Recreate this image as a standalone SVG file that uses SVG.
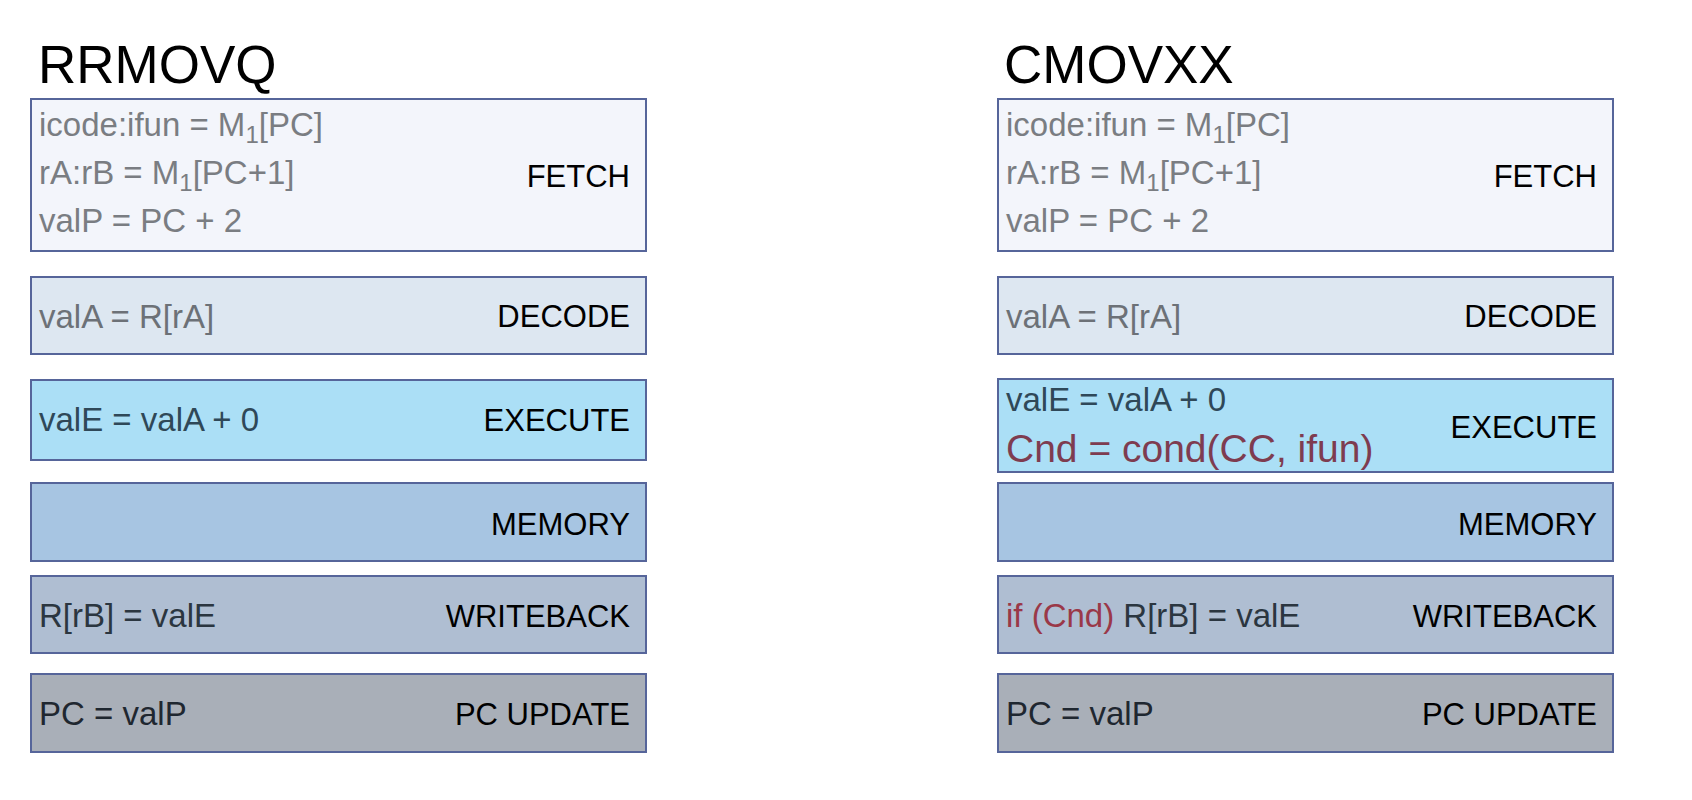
<svg xmlns="http://www.w3.org/2000/svg" width="1692" height="800" viewBox="0 0 1692 800">
<style>
.bg{fill:#ffffff}
.box{stroke:#56659a;stroke-width:2}
.fetch{fill:#f3f5fb}
.decode{fill:#dde7f1}
.execute{fill:#abdff6}
.memory{fill:#a7c5e2}
.writeback{fill:#afbed2}
.pcupdate{fill:#a9afb8}
.title{font-family:"Liberation Sans",Arial,sans-serif;font-size:53px;fill:#000}
.lbl{font-family:"Liberation Sans",Arial,sans-serif;font-size:31px;fill:#000;text-anchor:end}
.txt{font-family:"Liberation Sans",Arial,sans-serif;font-size:33px}
.g1{fill:#7a7d82}
.g2{fill:#6c7177}
.g3{fill:#2f4858}
.g4{fill:#2b3640}
.g5{fill:#1f2730}
.red{fill:#9a3848}
.cnd{font-family:"Liberation Sans",Arial,sans-serif;font-size:39px;fill:#7e3c50}
.sub{font-size:24px}
</style>
<rect class="bg" x="0" y="0" width="1692" height="800"/>
<g id="connectors"></g>

<g id="title-rrmovq"><text class="title" x="38" y="83">RRMOVQ</text></g>
<g id="title-cmovxx"><text class="title" x="1004" y="83">CMOVXX</text></g>

<g id="l-fetch">
<rect class="box fetch" x="31" y="99" width="615" height="152"/>
<text class="txt g1" x="39" y="136">icode:ifun = M<tspan class="sub" dy="7">1</tspan><tspan dy="-7">[PC]</tspan></text>
<text class="txt g1" x="39" y="184">rA:rB = M<tspan class="sub" dy="7">1</tspan><tspan dy="-7">[PC+1]</tspan></text>
<text class="txt g1" x="39" y="232">valP = PC + 2</text>
<text class="lbl" x="630" y="187">FETCH</text>
</g>
<g id="l-decode">
<rect class="box decode" x="31" y="277" width="615" height="77"/>
<text class="txt g2" x="39" y="328">valA = R[rA]</text>
<text class="lbl" x="630" y="327">DECODE</text>
</g>
<g id="l-execute">
<rect class="box execute" x="31" y="380" width="615" height="80"/>
<text class="txt g3" x="39" y="431">valE = valA + 0</text>
<text class="lbl" x="630" y="431">EXECUTE</text>
</g>
<g id="l-memory">
<rect class="box memory" x="31" y="483" width="615" height="78"/>
<text class="lbl" x="630" y="535">MEMORY</text>
</g>
<g id="l-writeback">
<rect class="box writeback" x="31" y="576" width="615" height="77"/>
<text class="txt g4" x="39" y="627">R[rB] = valE</text>
<text class="lbl" x="630" y="627">WRITEBACK</text>
</g>
<g id="l-pcupdate">
<rect class="box pcupdate" x="31" y="674" width="615" height="78"/>
<text class="txt g5" x="39" y="725">PC = valP</text>
<text class="lbl" x="630" y="725">PC UPDATE</text>
</g>

<g id="r-fetch">
<rect class="box fetch" x="998" y="99" width="615" height="152"/>
<text class="txt g1" x="1006" y="136">icode:ifun = M<tspan class="sub" dy="7">1</tspan><tspan dy="-7">[PC]</tspan></text>
<text class="txt g1" x="1006" y="184">rA:rB = M<tspan class="sub" dy="7">1</tspan><tspan dy="-7">[PC+1]</tspan></text>
<text class="txt g1" x="1006" y="232">valP = PC + 2</text>
<text class="lbl" x="1597" y="187">FETCH</text>
</g>
<g id="r-decode">
<rect class="box decode" x="998" y="277" width="615" height="77"/>
<text class="txt g2" x="1006" y="328">valA = R[rA]</text>
<text class="lbl" x="1597" y="327">DECODE</text>
</g>
<g id="r-execute">
<rect class="box execute" x="998" y="379" width="615" height="93"/>
<text class="txt g3" x="1006" y="411">valE = valA + 0</text>
<text class="cnd" x="1006" y="462">Cnd = cond(CC, ifun)</text>
<text class="lbl" x="1597" y="438">EXECUTE</text>
</g>
<g id="r-memory">
<rect class="box memory" x="998" y="483" width="615" height="78"/>
<text class="lbl" x="1597" y="535">MEMORY</text>
</g>
<g id="r-writeback">
<rect class="box writeback" x="998" y="576" width="615" height="77"/>
<text class="txt g4" x="1006" y="627"><tspan class="red">if (Cnd)</tspan> R[rB] = valE</text>
<text class="lbl" x="1597" y="627">WRITEBACK</text>
</g>
<g id="r-pcupdate">
<rect class="box pcupdate" x="998" y="674" width="615" height="78"/>
<text class="txt g5" x="1006" y="725">PC = valP</text>
<text class="lbl" x="1597" y="725">PC UPDATE</text>
</g>
</svg>
